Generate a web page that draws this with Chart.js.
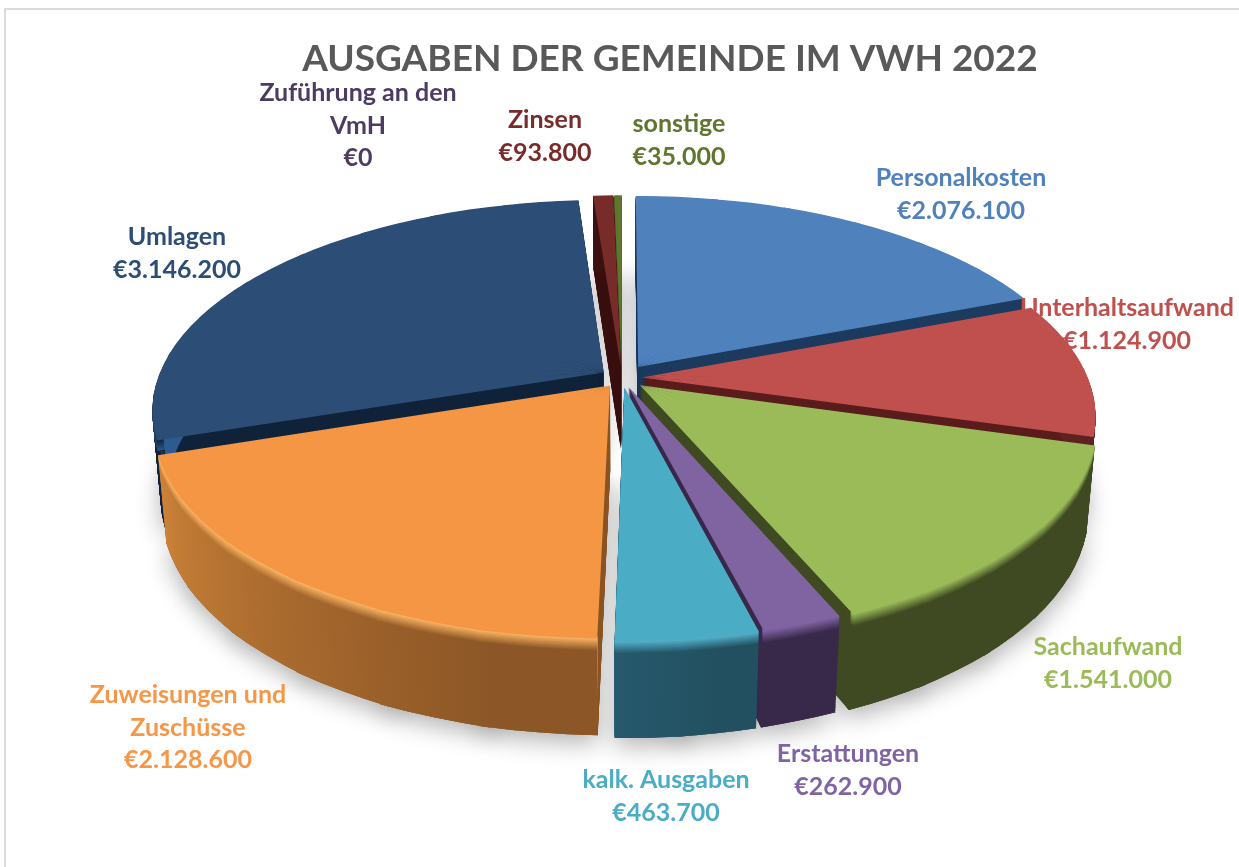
<!DOCTYPE html>
<html>
<head>
<meta charset="utf-8">
<title>Ausgaben der Gemeinde</title>
<style>
  html, body { margin: 0; background: #fff; overflow: hidden; }
  #frame { position: absolute; left: 4px; top: 8px; width: 1300px; height: 900px; border: 2px solid #dcdcdc; }
  #pie { position: absolute; left: 0; top: 0; }
</style>
</head>
<body>
<div id="frame"></div>
<canvas id="pie" width="1239" height="867"></canvas>
<script src="https://cdn.jsdelivr.net/npm/chart.js@4"></script>
<script>
const chartTitle = 'AUSGABEN DER GEMEINDE IM VWH 2022';
const categories = ['Personalkosten', 'Unterhaltsaufwand', 'Sachaufwand', 'Erstattungen', 'kalk. Ausgaben',
    'Zuweisungen und Zuschüsse', 'Umlagen', 'Zuführung an den VmH', 'Zinsen', 'sonstige'];
const amounts = [2076100, 1124900, 1541000, 262900, 463700, 2128600, 3146200, 0, 93800, 35000];

// label lines without the amount, wrapped like in the original
const labelLines = [['Personalkosten'], ['Unterhaltsaufwand'], ['Sachaufwand'], ['Erstattungen'], ['kalk. Ausgaben'],
    ['Zuweisungen und', 'Zuschüsse'], ['Umlagen'], ['Zuführung an den', 'VmH'], ['Zinsen'], ['sonstige']];
const labelAnchors = [[961, 178], [1127, 308], [1108, 647], [848, 754], [666, 780],
    [188, 695], [177, 237], [358, 93], [545, 120], [679, 124]];
const labelColors = ['#4f81bd', '#c0504d', '#9bbb59', '#8064a2', '#4bacc6',
    '#f79646', '#2c4d75', '#4d3b62', '#772c2a', '#5f7530'];

const topColors = ['#4f81bd', '#c0504d', '#9bbb59', '#8064a2', '#4bacc6',
    '#f59644', '#2c4d75', '#4d3b62', '#772c2a', '#5f7530'];
const rimStart = ['#1d3a5f', '#5c2322', '#3f4a22', '#38284a', '#225060',
    '#8c5626', '#2d5a90', '#2b2238', '#3a1010', '#3f4f20'];
const rimEnd = ['#1d3a5f', '#5c2322', '#3f4a22', '#38284a', '#26596d',
    '#cc8238', '#2d5a90', '#2b2238', '#3a1010', '#3f4f20'];
const wallColors = ['#1d3a5f', '#5a1c1c', '#3f4a22', '#38284a', '#225060',
    '#8c5626', '#10233a', '#2b2238', '#3a1010', '#3f4f20'];
const rimLight = ['#1d3a5f', '#5c2322', '#9bbb59', '#8064a2', '#55b6d0',
    '#ffb866', '#10233a', '#4d3b62', '#3a1010', '#3f4f20'];
const explode = [29, 20, 24, 20, 20, 20, 22, 20, 26, 26];
const drawOrder = [9, 8, 7, 0, 6, 1, 5, 2, 3, 4];

// tilted disc
const centerX = 622, centerY = 378, planeR = 446;
const squash = 0.46, tilt = 0.178, depth = 85, bevel = 11;
const wedgeStep = 12 * Math.PI / 180;

function project(sx, sy, z) {
    const w = 1 - tilt * sy / planeR + 0.0002 * z;
    return [centerX + sx / w, centerY + (squash * sy + z) / w];
}

function mixColor(a, b, t) {
    const pa = parseInt(a.slice(1), 16), pb = parseInt(b.slice(1), 16);
    const ch = s => Math.round(((pa >> s) & 255) * (1 - t) + ((pb >> s) & 255) * t);
    return 'rgb(' + ch(16) + ',' + ch(8) + ',' + ch(0) + ')';
}

// canvas has no perspective, so each piece of a slice gets its own affine map
// that puts apex and both arc ends where the tilted disc has them
function placeWedge(ctx, arc, a0, a1, mid, i, z) {
    const ex = explode[i] * Math.cos(mid), ey = explode[i] * Math.sin(mid);
    const o = project(ex, ey, z);
    const p = project(ex + planeR * Math.cos(a0), ey + planeR * Math.sin(a0), z);
    const q = project(ex + planeR * Math.cos(a1), ey + planeR * Math.sin(a1), z);
    const r = arc.outerRadius;
    const ux = r * Math.cos(a0), uy = r * Math.sin(a0), vx = r * Math.cos(a1), vy = r * Math.sin(a1);
    const det = ux * vy - uy * vx;
    const Ux = p[0] - o[0], Uy = p[1] - o[1], Vx = q[0] - o[0], Vy = q[1] - o[1];
    const m11 = (Ux * vy - Vx * uy) / det, m12 = (Vx * ux - Ux * vx) / det;
    const m21 = (Uy * vy - Vy * uy) / det, m22 = (Vy * ux - Uy * vx) / det;
    ctx.transform(m11, m21, m12, m22, o[0] - m11 * arc.x - m12 * arc.y, o[1] - m21 * arc.x - m22 * arc.y);
}

function rimFill(ctx, arc, i, z) {
    const span = (arc.endAngle - arc.startAngle) / (2 * Math.PI);
    const band = Math.min(0.03, span / 4);
    const light = z < bevel ? 1 - z / bevel : 0;
    const g = ctx.createConicGradient(arc.startAngle, arc.x, arc.y);
    const first = mixColor(rimStart[i], rimLight[i], light);
    const last = mixColor(rimEnd[i], rimLight[i], light);
    g.addColorStop(0, z < bevel ? first : wallColors[i]);
    g.addColorStop(band, z < bevel ? first : wallColors[i]);
    g.addColorStop(band + 0.0005, first);
    g.addColorStop(span, last);
    g.addColorStop(1, last);
    return g;
}

// draws the library's arc element piece by piece at height z
function paintArc(ctx, arc, i, z, fill, inner) {
    const opts = arc.options;
    const start = arc.startAngle, end = arc.endAngle, circ = arc.circumference, hole = arc.innerRadius;
    const mid = (start + end) / 2;
    const n = Math.ceil(circ / wedgeStep), step = circ / n;
    arc.options = { ...opts, backgroundColor: fill };
    arc.innerRadius = inner ? inner * arc.outerRadius : 0;
    for (let k = 0; k < n; k++) {
        const a0 = start + k * step, a1 = a0 + step;
        ctx.save();
        placeWedge(ctx, arc, a0, a1, mid, i, z);
        arc.startAngle = a0;
        arc.endAngle = Math.min(end, a1 + 0.02);
        arc.circumference = arc.endAngle - a0;
        arc.draw(ctx);
        ctx.restore();
    }
    arc.options = opts;
    arc.startAngle = start;
    arc.endAngle = end;
    arc.circumference = circ;
    arc.innerRadius = hole;
}

const pieView = {
    id: 'pieView',
    beforeDatasetDraw(chart) {
        const ctx = chart.ctx;
        const arcs = chart.getDatasetMeta(0).data;
        // soft shadow below the whole pie
        ctx.save();
        ctx.shadowColor = 'rgba(0,0,0,0.3)';
        ctx.shadowBlur = 24;
        ctx.shadowOffsetY = 8;
        drawOrder.forEach(i => {
            if (arcs[i].circumference > 0) paintArc(ctx, arcs[i], i, depth, '#999999');
        });
        ctx.restore();
        drawOrder.forEach(i => {
            const arc = arcs[i];
            if (arc.circumference === 0) return;
            // radial walls first, then the outer rim over them, then the top
            for (let z = depth; z > 0; z--) {
                paintArc(ctx, arc, i, z, wallColors[i]);
            }
            for (let z = depth; z > 0; z--) {
                paintArc(ctx, arc, i, z, rimFill(ctx, arc, i, z), 0.985);
            }
            paintArc(ctx, arc, i, 0, topColors[i]);
        });
        return false;
    },
    afterDraw(chart) {
        const ctx = chart.ctx;
        ctx.save();
        ctx.font = 'bold 25px Lato';
        ctx.textAlign = 'center';
        ctx.textBaseline = 'middle';
        categories.forEach((name, i) => {
            const lines = labelLines[i].concat('€' + amounts[i].toLocaleString('de-DE'));
            ctx.fillStyle = labelColors[i];
            lines.forEach((line, n) => {
                ctx.fillText(line, labelAnchors[i][0], labelAnchors[i][1] + n * 32.5);
            });
        });
        ctx.restore();
    }
};

new Chart(document.getElementById('pie'), {
    type: 'pie',
    data: {
        labels: categories,
        datasets: [{ data: amounts, backgroundColor: topColors, borderWidth: 0 }]
    },
    options: {
        responsive: false,
        animation: false,
        rotation: 0,
        layout: { padding: { left: 101 } },
        plugins: {
            legend: { display: false },
            tooltip: { enabled: false },
            title: {
                display: true,
                text: chartTitle,
                color: '#595959',
                font: { family: 'Lato', size: 37, weight: 'bold' },
                padding: { top: 37, bottom: 10 }
            }
        }
    },
    plugins: [pieView]
});
</script>
</body>
</html>
